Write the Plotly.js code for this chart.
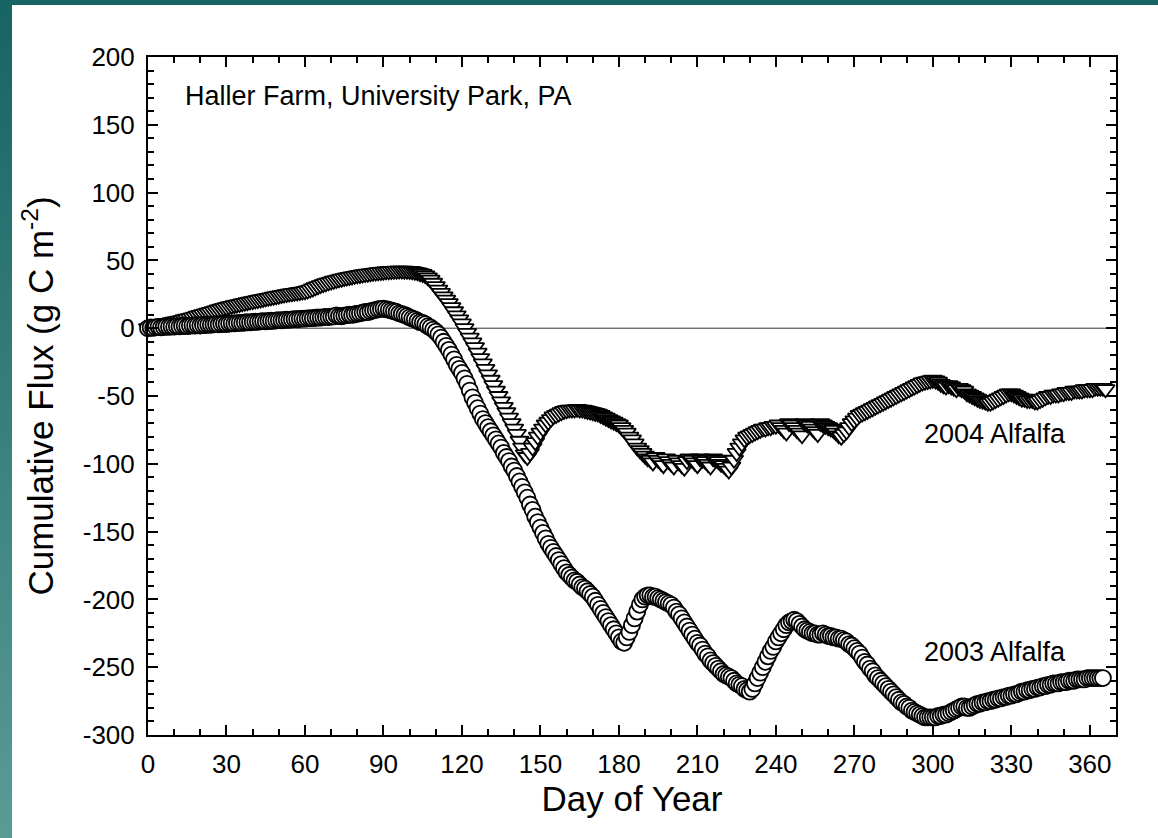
<!DOCTYPE html>
<html>
<head>
<meta charset="utf-8">
<script src="https://cdn.plot.ly/plotly-3.0.1.min.js"></script>
<style>
  html, body { margin: 0; padding: 0; width: 1158px; height: 838px; overflow: hidden; }
  body { background: linear-gradient(to bottom, #176464 0%, #3f8581 60%, #5a9b96 100%); position: relative; }
  #chart { position: absolute; left: 12px; top: 5px; width: 1146px; height: 833px; background: #ffffff; }
</style>
</head>
<body>
<div id="chart"></div>
<script>
// Day-of-year axis start (daily samples)
const startDay = 0;

// 2003 Alfalfa cumulative flux (g C m-2), one value per day starting at day 0
const flux2003 = [
  0,0.5,0.2,0.8,1.0,0.6,0.9,1.2,1.0,1.3,
  1.1,1.5,1.3,1.6,1.8,1.5,1.9,2.1,1.9,2.2,
  2.0,2.4,2.3,2.6,2.5,2.8,3.0,2.8,3.1,3.3,
  3.1,3.4,3.6,3.5,3.8,4.0,3.9,4.2,4.4,4.3,
  4.6,4.8,4.7,5.0,5.2,5.0,5.3,5.5,5.4,5.7,
  5.9,5.8,6.1,6.3,6.2,6.5,6.7,6.6,6.9,7.1,
  7.0,7.3,7.5,7.4,7.7,7.9,7.8,8.1,8.3,8.2,
  8.5,8.7,9.5,9.0,8.8,9.2,9.6,10.0,9.8,10.3,
  10.6,11.0,11.5,12.0,11.8,12.5,13.0,13.5,14.0,14.2,
  14.5,14.0,13.6,13.0,12.5,12.0,11.0,10.5,9.8,9.0,
  8.0,7.2,6.5,5.5,4.5,4.0,3.0,1.5,0.5,-1.0,
  -2.5,-4.5,-7,-10,-13,-16,-19.5,-23,-27,-30,
  -33,-37,-41,-46,-51,-55,-59,-63,-67,-70,
  -73,-76,-79,-82,-85,-88,-92,-95,-98,-102,
  -105,-109,-113,-117,-121,-125,-130,-134,-139,-143,
  -147,-151,-155,-159,-162,-165,-168,-171,-174,-177,
  -180,-182,-184,-186,-187,-189,-191,-192,-194,-196,
  -198,-201,-204,-207,-210,-213,-216,-219,-222,-225,
  -228,-231,-232,-228,-224,-219,-214,-209,-204,-200,
  -198,-197,-197,-198,-198,-199,-200,-201,-202,-203,
  -204,-206,-209,-211,-214,-217,-220,-223,-226,-229,
  -232,-234,-237,-240,-242,-245,-247,-249,-251,-253,
  -255,-256,-257,-258,-260,-262,-263,-264,-266,-267,
  -268,-266,-262,-258,-254,-250,-246,-242,-238,-235,
  -231,-228,-225,-222,-219,-217,-216,-215,-216,-218,
  -220,-222,-223,-224,-225,-225,-226,-226,-225,-226,
  -227,-227,-228,-228,-229,-229,-230,-231,-233,-234,
  -236,-238,-240,-243,-246,-248,-251,-253,-256,-258,
  -260,-262,-264,-266,-268,-270,-272,-274,-276,-277,
  -279,-280,-282,-283,-284,-285,-286,-287,-287,-287,
  -287,-287,-286,-286,-285,-285,-284,-283,-282,-281,
  -280,-279,-279,-280,-280,-279,-278,-277,-277,-276,
  -276,-275,-275,-274,-274,-273,-273,-272,-272,-271,
  -271,-270,-270,-269,-268,-268,-267,-267,-266,-266,
  -265,-265,-264,-264,-263,-263,-262,-262,-262,-261,
  -261,-261,-260,-260,-260,-259,-259,-259,-259,-258,
  -258,-258,-258,-258,-258,-258
];

// 2004 Alfalfa cumulative flux (g C m-2), one value per day starting at day 0
const flux2004 = [
  0,1.0,1.5,2.0,2.3,2.8,3.2,3.5,3.9,4.4,
  4.8,5.2,5.6,6.0,6.6,7.0,7.5,8.0,8.6,9.2,
  9.8,10.4,11.0,11.5,12.0,12.6,13.2,13.8,14.4,15.0,
  15.5,16.0,16.5,17.0,17.4,17.8,18.3,18.7,19.2,19.6,
  20.0,20.4,20.8,21.2,21.6,22.0,22.4,22.8,23.2,23.6,
  24.0,24.4,24.8,25.2,25.5,25.8,26.1,26.4,26.7,27.0,
  27.3,27.8,28.5,29.3,30.2,31.0,31.8,32.5,33.2,33.8,
  34.4,35.0,35.5,36.0,36.5,37.0,37.4,37.8,38.2,38.6,
  39.0,39.3,39.6,39.9,40.2,40.5,40.8,41.0,41.3,41.5,
  41.7,41.9,42.0,42.2,42.3,42.4,42.5,42.5,42.4,42.3,
  42.2,42.0,41.6,41.2,40.6,40.0,39.0,37.5,35.8,33.5,
  31.0,28.5,26.0,23.5,21.0,18.5,15.5,12.5,9.5,6.5,
  3.5,0,-3.5,-7,-10.5,-14,-18,-22,-26,-30,
  -34,-38,-42,-46,-50,-54,-58,-62,-66,-70,
  -74,-78,-83,-88,-93,-95,-92,-88,-84,-80,
  -77,-74,-71,-69,-67,-65,-64,-63,-62,-61,
  -60.5,-60,-60,-60,-59.5,-60,-60,-60.5,-61,-61.5,
  -62,-62.5,-63,-64,-65,-66,-67,-68,-69,-70,
  -71,-73,-75,-77,-80,-82,-85,-88,-90,-92,
  -94,-96,-97,-99,-95,-97,-99,-101,-96,-98,
  -100,-102,-97,-99,-101,-103,-98,-96,-97,-99,
  -101,-96,-97,-98,-100,-102,-96,-97,-98,-100,
  -101,-103,-105,-102,-97,-92,-88,-85,-82,-80,
  -79,-78,-77,-76,-75,-74,-74,-73,-73,-72,
  -72,-71,-73,-75,-77,-70,-71,-73,-75,-77,
  -79,-70,-71,-72,-74,-76,-78,-70,-71,-72,
  -73,-74,-75,-77,-79,-80,-78,-76,-73,-70,
  -68,-66,-64,-63,-62,-61,-60,-59,-58,-57,
  -56,-55,-54,-53,-52,-51,-50,-49,-48,-47,
  -46,-45,-44,-43,-42,-41,-40,-39.5,-39,-38.5,
  -38,-38.5,-39.5,-41,-42,-43,-42,-43,-44,-45,
  -44,-45,-46,-48,-49,-50,-51,-52,-53,-53.5,
  -54,-55,-55,-54,-53,-52,-51,-50,-49,-48,
  -48,-49,-50,-51,-52,-52,-53,-53,-53,-54,
  -54,-53,-52,-51,-50,-50,-49,-49,-49,-48,
  -48,-47,-47,-47,-46,-46,-46,-46,-45,-45,
  -45,-45,-44,-44,-44,-44,-45
];

const seriesNames = ['2004 Alfalfa', '2003 Alfalfa'];
const xTickVals = [0, 30, 60, 90, 120, 150, 180, 210, 240, 270, 300, 330, 360];
const yTickVals = [-300, -250, -200, -150, -100, -50, 0, 50, 100, 150, 200];
const siteLabel = 'Haller Farm, University Park, PA';

const days2003 = flux2003.map((_, i) => startDay + i);
const days2004 = flux2004.map((_, i) => startDay + i);

const FONT = 'Liberation Sans, Arial, sans-serif';

const traces = [
  {
    x: days2004, y: flux2004, name: seriesNames[0], type: 'scatter', mode: 'markers',
    marker: { symbol: 'triangle-down', size: 16, color: '#ffffff', line: { color: '#000000', width: 1.8 } },
    cliponaxis: false
  },
  {
    x: days2003, y: flux2003, name: seriesNames[1], type: 'scatter', mode: 'markers',
    marker: { symbol: 'circle', size: 16, color: '#ffffff', line: { color: '#000000', width: 1.8 } },
    cliponaxis: false
  }
];

const axisCommon = {
  showgrid: false, zeroline: false, showline: true, linecolor: '#000', linewidth: 2,
  mirror: 'allticks', ticks: 'inside', ticklen: 10, tickwidth: 2, tickcolor: '#000',
  tickfont: { family: FONT, size: 26, color: '#000' },
  minor: { ticks: 'inside', dtick: 10, ticklen: 6, tickwidth: 2, tickcolor: '#000', showgrid: false }
};

const layout = {
  width: 1146, height: 833,
  margin: { l: 136, r: 42, t: 52, b: 103 },
  paper_bgcolor: '#ffffff', plot_bgcolor: '#ffffff',
  showlegend: false,
  font: { family: FONT, color: '#000' },
  xaxis: Object.assign({}, axisCommon, {
    range: [0, 370], tickmode: 'array', tickvals: xTickVals,
    ticktext: xTickVals.map(String),
    ticklabelstandoff: 5,
    title: { text: 'Day of Year', font: { family: FONT, size: 35, color: '#000' }, standoff: 7 }
  }),
  yaxis: Object.assign({}, axisCommon, {
    range: [-300, 200], tickmode: 'array', tickvals: yTickVals,
    ticktext: yTickVals.map(String),
    ticklabelstandoff: 6,
    title: { text: 'Cumulative Flux (g C m<sup>-2</sup>)', font: { family: FONT, size: 35, color: '#000' }, standoff: 19 }
  }),
  shapes: [
    { type: 'line', xref: 'paper', x0: 0, x1: 1, yref: 'y', y0: 0, y1: 0, layer: 'below',
      line: { color: '#333', width: 1 } }
  ],
  annotations: [
    { text: siteLabel, xref: 'x', yref: 'y', x: 13.4, y: 171, xanchor: 'left', yanchor: 'middle',
      showarrow: false, font: { family: FONT, size: 27, color: '#000' } },
    { text: seriesNames[0], xref: 'x', yref: 'y', x: 296, y: -78, xanchor: 'left', yanchor: 'middle',
      showarrow: false, font: { family: FONT, size: 27, color: '#000' } },
    { text: seriesNames[1], xref: 'x', yref: 'y', x: 296, y: -239, xanchor: 'left', yanchor: 'middle',
      showarrow: false, font: { family: FONT, size: 27, color: '#000' } }
  ]
};

Plotly.newPlot('chart', traces, layout, { displayModeBar: false, staticPlot: true });
</script>
</body>
</html>
